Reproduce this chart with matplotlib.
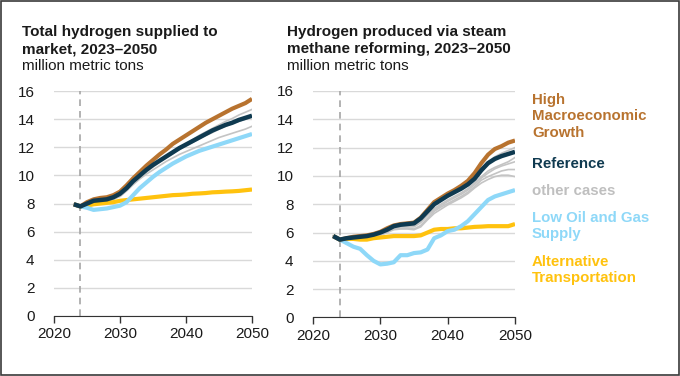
import matplotlib

matplotlib.use("Agg")
import matplotlib.pyplot as plt
from matplotlib.patches import Rectangle

years = list(range(2023, 2051))

# Total hydrogen supplied to market (million metric tons)
total_reference = [7.95, 7.8, 8.0, 8.2, 8.25, 8.3, 8.45, 8.7, 9.1, 9.6, 10.0, 10.4, 10.75, 11.05,
                   11.35, 11.65, 11.95, 12.2, 12.45, 12.7, 12.95, 13.2, 13.4, 13.6, 13.75, 13.95, 14.1, 14.25]
total_high_macro = [7.95, 7.8, 8.1, 8.3, 8.4, 8.45, 8.6, 8.85, 9.3, 9.8, 10.25, 10.7, 11.1, 11.5,
                    11.85, 12.25, 12.55, 12.85, 13.15, 13.45, 13.75, 14.0, 14.25, 14.5, 14.75, 14.95, 15.15, 15.45]
total_low_oil_gas = [7.95, 7.8, 7.7, 7.55, 7.6, 7.65, 7.75, 7.85, 8.1, 8.6, 9.1, 9.5, 9.9, 10.25,
                     10.55, 10.85, 11.1, 11.35, 11.55, 11.75, 11.9, 12.05, 12.2, 12.35, 12.5, 12.65, 12.8, 12.95]
total_alt_transport = [7.95, 7.8, 7.85, 7.95, 8.0, 8.05, 8.1, 8.2, 8.25, 8.3, 8.35, 8.4, 8.45, 8.5,
                       8.55, 8.6, 8.62, 8.65, 8.7, 8.72, 8.75, 8.8, 8.82, 8.85, 8.87, 8.9, 8.95, 9.0]
total_other = [
    [7.95, 7.8, 7.95, 8.1, 8.2, 8.25, 8.4, 8.6, 9.0, 9.5, 9.95, 10.35, 10.7, 11.05,
     11.35, 11.65, 11.95, 12.25, 12.55, 12.85, 13.1, 13.35, 13.6, 13.85, 14.05, 14.3, 14.5, 14.7],
    [7.95, 7.8, 7.9, 8.0, 8.1, 8.15, 8.3, 8.5, 8.9, 9.35, 9.75, 10.1, 10.4, 10.7,
     11.0, 11.25, 11.5, 11.7, 11.9, 12.1, 12.3, 12.5, 12.7, 12.85, 13.0, 13.15, 13.3, 13.5],
    [7.95, 7.8, 7.95, 8.1, 8.2, 8.25, 8.35, 8.55, 8.95, 9.45, 9.85, 10.25, 10.6, 10.95,
     11.25, 11.55, 11.85, 12.1, 12.35, 12.6, 12.85, 13.05, 13.3, 13.5, 13.7, 13.85, 14.0, 14.15],
]

# Hydrogen produced via steam methane reforming (million metric tons)
smr_reference = [5.75, 5.5, 5.6, 5.65, 5.7, 5.75, 5.85, 6.0, 6.2, 6.45, 6.55, 6.6, 6.65, 7.0,
                 7.5, 8.0, 8.3, 8.6, 8.85, 9.1, 9.4, 9.8, 10.4, 10.9, 11.2, 11.4, 11.55, 11.7]
smr_high_macro = [5.75, 5.5, 5.6, 5.7, 5.75, 5.8, 5.9, 6.05, 6.3, 6.5, 6.6, 6.65, 6.7, 7.05,
                  7.6, 8.15, 8.45, 8.75, 9.0, 9.3, 9.65, 10.2, 10.9, 11.5, 11.9, 12.1, 12.35, 12.5]
smr_low_oil_gas = [5.75, 5.5, 5.25, 5.0, 4.85, 4.4, 4.0, 3.75, 3.8, 3.9, 4.4, 4.4, 4.55, 4.6,
                   4.8, 5.6, 5.8, 6.1, 6.2, 6.45, 6.8, 7.3, 7.8, 8.3, 8.55, 8.7, 8.85, 9.0]
smr_alt_transport = [5.75, 5.5, 5.55, 5.55, 5.5, 5.5, 5.6, 5.65, 5.7, 5.75, 5.75, 5.75, 5.75, 5.8,
                     6.0, 6.2, 6.25, 6.25, 6.3, 6.3, 6.35, 6.4, 6.42, 6.45, 6.45, 6.45, 6.45, 6.6]
smr_other = [
    [5.75, 5.5, 5.55, 5.6, 5.65, 5.7, 5.8, 5.95, 6.15, 6.4, 6.5, 6.55, 6.6, 6.95,
     7.45, 7.95, 8.25, 8.55, 8.85, 9.1, 9.4, 9.85, 10.5, 11.0, 11.35, 11.6, 11.8, 12.0],
    [5.75, 5.5, 5.5, 5.55, 5.6, 5.65, 5.75, 5.9, 6.1, 6.35, 6.45, 6.45, 6.5, 6.8,
     7.3, 7.7, 8.0, 8.3, 8.55, 8.8, 9.1, 9.5, 9.95, 10.35, 10.6, 10.8, 11.0, 11.3],
    [5.75, 5.5, 5.5, 5.55, 5.6, 5.65, 5.75, 5.9, 6.1, 6.3, 6.4, 6.4, 6.4, 6.7,
     7.2, 7.6, 7.9, 8.2, 8.45, 8.7, 9.0, 9.4, 9.85, 10.2, 10.5, 10.7, 10.85, 11.0],
    [5.75, 5.5, 5.5, 5.5, 5.55, 5.6, 5.7, 5.85, 6.05, 6.25, 6.3, 6.3, 6.25, 6.5,
     7.0, 7.5, 7.8, 8.05, 8.3, 8.55, 8.85, 9.25, 9.7, 9.95, 10.15, 10.35, 10.45, 10.45],
    [5.75, 5.5, 5.5, 5.5, 5.5, 5.55, 5.65, 5.8, 6.0, 6.2, 6.25, 6.25, 6.2, 6.4,
     6.9, 7.35, 7.65, 7.95, 8.2, 8.45, 8.75, 9.15, 9.5, 9.75, 9.95, 10.05, 10.05, 9.95],
]

titles = [("Total hydrogen supplied to", "market, 2023\u20132050"),
          ("Hydrogen produced via steam", "methane reforming, 2023\u20132050")]
subtitle = "million metric tons"
last_history_year = 2024

legend_labels = [("High\nMacroeconomic\nGrowth", "high"), ("Reference", "ref"),
                 ("other cases", "other"), ("Low Oil and Gas\nSupply", "low"),
                 ("Alternative\nTransportation", "alt")]

COLORS = {"high": "#b8732f", "ref": "#0f3a50", "other": "#c4c4c4",
          "low": "#8ed8f8", "alt": "#ffc20e"}

plt.rcParams["font.family"] = ["Liberation Sans", "DejaVu Sans"]

fig = plt.figure(figsize=(6.8, 3.76), dpi=100)
axes = [fig.add_axes([54 / 680, 0.1596, 198 / 680, 0.598]),
        fig.add_axes([313 / 680, 0.1556, 202 / 680, 0.6025])]

panels = [
    (total_reference, total_high_macro, total_low_oil_gas, total_alt_transport, total_other),
    (smr_reference, smr_high_macro, smr_low_oil_gas, smr_alt_transport, smr_other),
]

for ax, (ref, high, low, alt, others) in zip(axes, panels):
    for series in others:
        ax.plot(years, series, color=COLORS["other"], lw=1.2, zorder=2)
    ax.plot(years, alt, color=COLORS["alt"], lw=3, zorder=3, solid_capstyle="butt")
    ax.plot(years, low, color=COLORS["low"], lw=3, zorder=3, solid_capstyle="butt")
    ax.plot(years, high, color=COLORS["high"], lw=3, zorder=4, solid_capstyle="butt")
    ax.plot(years, ref, color=COLORS["ref"], lw=3.2, zorder=5, solid_capstyle="butt")
    ax.axvline(last_history_year, color="#a6a6a6", lw=1.2, ls=(0, (4, 3)), zorder=1)

    ax.set_xlim(2020, 2050)
    ax.set_ylim(0, 16)
    ax.set_xticks([2020, 2030, 2040, 2050])
    ax.set_yticks(range(0, 17, 2))
    ax.yaxis.grid(True, color="#d9d9d9", lw=1)
    ax.set_axisbelow(True)
    for side in ("top", "right", "left"):
        ax.spines[side].set_visible(False)
    ax.spines["bottom"].set_color("#333333")
    ax.tick_params(axis="y", length=0, pad=14, labelsize=11, colors="#1a1a1a")
    ax.tick_params(axis="x", length=5, width=1, color="#333333", pad=3,
                   labelsize=11, labelcolor="#1a1a1a")
    ax.set_clip_on(False)

# titles
for x0, (line1, line2) in zip([22 / 680, 287 / 680], titles):
    fig.text(x0, 1 - 36 / 376, line1, fontsize=11, fontweight="bold", color="#1a1a1a")
    fig.text(x0, 1 - 53 / 376, line2, fontsize=11, fontweight="bold", color="#1a1a1a")
    fig.text(x0, 1 - 70 / 376, subtitle, fontsize=11, color="#1a1a1a")

# legend labels on the right
legend_y = [93, 157, 184, 211, 255]
for (label, key), y in zip(legend_labels, legend_y):
    fig.text(532 / 680, 1 - y / 376, label, fontsize=10.8, fontweight="bold",
             color=COLORS[key] if key != "other" else "#bfbfbf",
             va="top", linespacing=1.22)

# outer frame
fig.patches.append(Rectangle((0.001, 0.003), 0.997, 0.994, transform=fig.transFigure,
                             fill=False, edgecolor="#3a3a3a", lw=1.2))

fig.savefig("out.png", dpi=100)
